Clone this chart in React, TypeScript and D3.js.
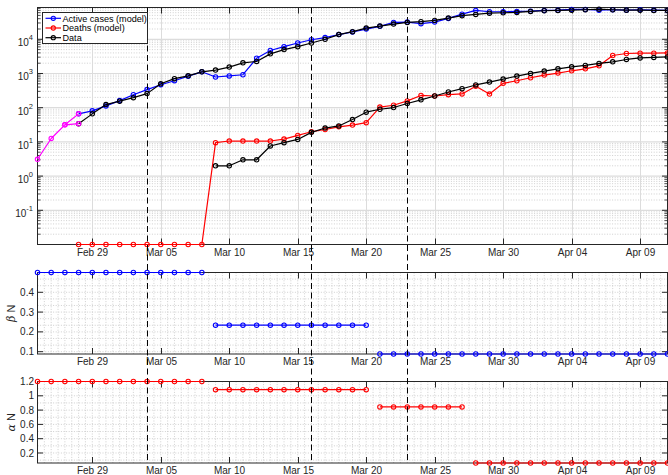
import React from "react";
import * as d3 from "d3";

const W = 668;
const H = 475;
const FONT = "'Liberation Sans', Arial, Helvetica, sans-serif";
const INK = "#262626";

// Daily time axis: Feb 25 2020 → Apr 11 2020
const START = new Date(2020, 1, 25);
const END = new Date(2020, 3, 11);
const dayAt = (i: number) => d3.timeDay.offset(START, i);

// Day offsets (from Feb 25) where each series begins
const MODEL_START = 3; // Feb 28
const DEATH_DATA_START = 13; // Mar 09

// Initial growth phase, Feb 25–27
const earlyGrowth = [3.1, 12.6, 31.6];

// Active cases (model), from Feb 28
const activeModel = [
  66, 81, 113, 161, 240, 338, 470, 615, 835, 1120, 790, 850, 920, 2800, 4700,
  6100, 7800, 9700, 11200, 13700, 16300, 19900, 23900, 31200, 31800, 28600,
  31800, 40800, 54300, 69700, 63800, 63800, 65200, 66500, 69700, 71100, 74500,
  74500, 71100, 73000, 71100, 73000, 71100, 69700,
];

// Reported active cases, from Feb 28
const casesData = [
  34, 66, 123, 155, 196, 258, 500, 705, 855, 1120, 1260, 1540, 2050, 2250, 3750,
  5000, 6100, 7800, 10000, 13700, 16700, 21300, 24400, 27900, 31200, 32700,
  35700, 41600, 48900, 53300, 58200, 59700, 61000, 65200, 68200, 69700, 71100,
  73000, 76000, 73000, 71100, 71100, 69700, 69700,
];

// Deaths (model), from Feb 28
const deathsModel = [
  0.01, 0.01, 0.01, 0.01, 0.01, 0.01, 0.01, 0.01, 0.01, 0.01, 9.5, 10.6, 10.6,
  10.6, 10.6, 12.1, 15.5, 19.8, 23, 27.5, 31, 36.5, 104, 118, 158, 228, 220,
  240, 252, 425, 250, 515, 614, 750, 898, 1028, 1200, 1370, 1675, 3360, 3840,
  3920, 3920, 4000,
];

// Reported deaths, from Mar 09
const deathsData = [
  2, 2, 3, 3, 7.6, 9.5, 11.8, 19, 25.4, 29.3, 45, 74, 90, 101, 133, 170, 220,
  288, 359, 462, 562, 687, 840, 1007, 1175, 1370, 1566, 1720, 1966, 2190, 2570,
  2860, 2940, 3055,
];

// Transmission rate per day, piecewise constant
const betaN = [
  0.5, 0.5, 0.5, 0.5, 0.5, 0.5, 0.5, 0.5, 0.5, 0.5, 0.5, 0.5, 0.5,
  0.234, 0.234, 0.234, 0.234, 0.234, 0.234, 0.234, 0.234, 0.234, 0.234, 0.234, 0.234,
  0.0883, 0.0883, 0.0883, 0.0883, 0.0883, 0.0883, 0.0883, 0.0883, 0.0883, 0.0883, 0.0883,
  0.0883, 0.0883, 0.0883, 0.0883, 0.0883, 0.0883, 0.0883, 0.0883, 0.0883, 0.0883, 0.0883,
];
const betaSegments: [number, number][] = [[0, 12], [13, 24], [25, 46]];

const alphaN = [
  1.2, 1.2, 1.2, 1.2, 1.2, 1.2, 1.2, 1.2, 1.2, 1.2, 1.2, 1.2, 1.2,
  1.085, 1.085, 1.085, 1.085, 1.085, 1.085, 1.085, 1.085, 1.085, 1.085, 1.085, 1.085,
  0.845, 0.845, 0.845, 0.845, 0.845, 0.845, 0.845,
  0.06, 0.06, 0.06, 0.06, 0.06, 0.06, 0.06, 0.06, 0.06, 0.06, 0.06, 0.06, 0.06, 0.06, 0.06,
];
const alphaSegments: [number, number][] = [[0, 12], [13, 24], [25, 31], [32, 46]];

// Intervention dates
const interventions = [new Date(2020, 2, 4), new Date(2020, 2, 16), new Date(2020, 2, 23)];

const logTicks = [0.1, 1, 10, 100, 1000, 10000];
const betaTicks = [0.1, 0.2, 0.3, 0.4];
const alphaTicks = [0.2, 0.4, 0.6, 0.8, 1, 1.2];

const legendItems = [
  { label: "Active cases (model)", color: "#0000ff" },
  { label: "Deaths (model)", color: "#ff0000" },
  { label: "Data", color: "#000000" },
];

const x = d3.scaleTime().domain([START, END]).range([37.5, 667.5]);
const xTicks = d3.timeDay.range(new Date(2020, 1, 29), d3.timeDay.offset(END, 1), 5);
const fmt = d3.timeFormat("%b %d");

const TOP = { y0: 7.5, y1: 244.5 };
const MID = { y0: 272.5, y1: 354 };
const BOT = { y0: 381.5, y1: 463 };

const yTop = d3.scaleLog().domain([0.01, 85000]).range([TOP.y1, TOP.y0]);
const yBeta = d3.scaleLinear().domain(d3.extent(betaN) as [number, number]).range([MID.y1, MID.y0]);
const yAlpha = d3.scaleLinear().domain(d3.extent(alphaN) as [number, number]).range([BOT.y1, BOT.y0]);

type Pt = [Date, number];
const series = (vals: number[], offset: number): Pt[] => vals.map((v, i) => [dayAt(offset + i), v]);

function Series({ pts, y, color, width = 1.2 }: { pts: Pt[]; y: (v: number) => number; color: string; width?: number }) {
  const line = d3.line<Pt>().x((d) => x(d[0])).y((d) => y(d[1]));
  return (
    <g>
      <path d={line(pts) || ""} fill="none" stroke={color} strokeWidth={width} strokeLinejoin="round" />
      {pts.map((d, i) => (
        <circle key={i} cx={x(d[0])} cy={y(d[1])} r={2.2} fill="none" stroke={color} strokeWidth={1.1} />
      ))}
    </g>
  );
}

function XAxis({ y0, y1 }: { y0: number; y1: number }) {
  return (
    <g>
      {xTicks.map((t, i) => {
        const px = Math.round(x(t)) + 0.5;
        return (
          <g key={i}>
            <line x1={px} x2={px} y1={y1} y2={y1 - 6} stroke={INK} />
            <line x1={px} x2={px} y1={y0} y2={y0 + 6} stroke={INK} />
            <text x={px} y={y1 + 11} textAnchor="middle" fontSize={10} fill={INK} fontFamily={FONT}>
              {fmt(t)}
            </text>
          </g>
        );
      })}
    </g>
  );
}

function Frame({ y0, y1 }: { y0: number; y1: number }) {
  return <rect x={37.5} y={y0} width={630} height={y1 - y0} fill="none" stroke={INK} strokeWidth={1} />;
}

function TopPanel() {
  const minor: number[] = [];
  for (let k = -2; k <= 4; k++) for (let m = 2; m <= 9; m++) {
    const v = m * Math.pow(10, k);
    if (v < 85000) minor.push(v);
  }
  const early: Pt[] = series(earlyGrowth, 0);
  const activePts = series(activeModel, MODEL_START);
  const casesPts = series(casesData, MODEL_START);
  return (
    <g>
      {minor.map((v, i) => (
        <line key={"m" + i} x1={37.5} x2={667.5} y1={yTop(v)} y2={yTop(v)} stroke="#c4c4c4" strokeWidth={0.8} strokeDasharray="1,1.6" />
      ))}
      {logTicks.map((v, i) => (
        <line key={"g" + i} x1={37.5} x2={667.5} y1={yTop(v)} y2={yTop(v)} stroke="#dcdcdc" strokeWidth={1.2} />
      ))}
      {xTicks.map((t, i) => (
        <line key={"v" + i} x1={Math.round(x(t)) + 0.5} x2={Math.round(x(t)) + 0.5} y1={TOP.y0} y2={TOP.y1} stroke="#dcdcdc" strokeWidth={1} />
      ))}
      <Frame y0={TOP.y0} y1={TOP.y1} />
      <XAxis y0={TOP.y0} y1={TOP.y1} />
      {minor.map((v, i) => (
        <g key={"mt" + i}>
          <line x1={37.5} x2={40.5} y1={yTop(v)} y2={yTop(v)} stroke={INK} strokeWidth={0.8} />
          <line x1={667.5} x2={664.5} y1={yTop(v)} y2={yTop(v)} stroke={INK} strokeWidth={0.8} />
        </g>
      ))}
      {logTicks.map((v, i) => {
        const exp = Math.round(Math.log10(v));
        return (
          <g key={"t" + i}>
            <line x1={37.5} x2={43} y1={yTop(v)} y2={yTop(v)} stroke={INK} />
            <line x1={667.5} x2={662} y1={yTop(v)} y2={yTop(v)} stroke={INK} />
            <text x={33} y={yTop(v) + 7} textAnchor="end" fontSize={10} fill={INK} fontFamily={FONT}>
              10
              <tspan fontSize={7.5} dy={-6}>{exp}</tspan>
            </text>
          </g>
        );
      })}
      <Series pts={activePts} y={yTop} color="#0000ff" />
      <Series pts={series(deathsModel, MODEL_START)} y={yTop} color="#ff0000" />
      <Series pts={casesPts} y={yTop} color="#000000" />
      <Series pts={series(deathsData, DEATH_DATA_START)} y={yTop} color="#000000" />
      <Series pts={[...early, activePts[0]]} y={yTop} color="#ff00ff" />
      <Series pts={[early[early.length - 1], casesPts[0]]} y={yTop} color="#ff00ff" />
    </g>
  );
}

function ParamPanel({
  vals, segs, y, ticks, minorStep, color, y0, y1, symbol,
}: {
  vals: number[]; segs: [number, number][]; y: d3.ScaleLinear<number, number>; ticks: number[];
  minorStep: number; color: string; y0: number; y1: number; symbol: string;
}) {
  const [lo, hi] = y.domain();
  const hMinor: number[] = [];
  for (let v = Math.ceil(lo / minorStep) * minorStep; v <= hi + 1e-9; v += minorStep) hMinor.push(v);
  const vMinor = d3.timeHour.every(12)!.range(START, END);
  return (
    <g>
      {vMinor.map((t, i) => (
        <line key={"vm" + i} x1={x(t)} x2={x(t)} y1={y0} y2={y1} stroke="#c4c4c4" strokeWidth={0.8} strokeDasharray="1,1.6" />
      ))}
      {hMinor.map((v, i) => (
        <line key={"hm" + i} x1={37.5} x2={667.5} y1={y(v)} y2={y(v)} stroke="#c4c4c4" strokeWidth={0.8} strokeDasharray="1,1.6" />
      ))}
      <Frame y0={y0} y1={y1} />
      <XAxis y0={y0} y1={y1} />
      {ticks.map((v, i) => (
        <g key={"t" + i}>
          <line x1={37.5} x2={43} y1={y(v)} y2={y(v)} stroke={INK} />
          <line x1={667.5} x2={662} y1={y(v)} y2={y(v)} stroke={INK} />
          <text x={34} y={y(v) + 3.6} textAnchor="end" fontSize={10} fill={INK} fontFamily={FONT}>
            {String(v)}
          </text>
        </g>
      ))}
      {segs.map(([a, b], i) => (
        <Series key={i} pts={vals.slice(a, b + 1).map((v, j) => [dayAt(a + j), v] as Pt)} y={y} color={color} />
      ))}
      <text
        transform={`translate(15,${(y0 + y1) / 2}) rotate(-90)`}
        textAnchor="middle" fontSize={11} fill={INK} fontFamily={FONT}
      >
        <tspan fontStyle="italic" fontFamily="'DejaVu Serif', serif">{symbol}</tspan> N
      </text>
    </g>
  );
}

function Legend() {
  const rows = [18.3, 28, 37.7];
  return (
    <g>
      <rect x={42.5} y={12.5} width={105} height={31} fill="#ffffff" stroke={INK} strokeWidth={1} />
      {legendItems.map((it, i) => (
        <g key={i}>
          <line x1={45.5} x2={61} y1={rows[i]} y2={rows[i]} stroke={it.color} strokeWidth={1.2} />
          <circle cx={53.3} cy={rows[i]} r={2.1} fill="none" stroke={it.color} strokeWidth={1.1} />
          <text x={62.5} y={rows[i] + 3.2} fontSize={9.1} fill="#000" fontFamily={FONT}>{it.label}</text>
        </g>
      ))}
    </g>
  );
}

export default function App() {
  return (
    <svg width={W} height={H} style={{ position: "absolute", left: 0, top: 0, background: "#fff" }}>
      <rect width={W} height={H} fill="#fff" />
      <TopPanel />
      <ParamPanel vals={betaN} segs={betaSegments} y={yBeta} ticks={betaTicks} minorStep={0.1 / 3}
        color="#0000ff" y0={MID.y0} y1={MID.y1} symbol="β" />
      <ParamPanel vals={alphaN} segs={alphaSegments} y={yAlpha} ticks={alphaTicks} minorStep={0.1}
        color="#ff0000" y0={BOT.y0} y1={BOT.y1} symbol="α" />
      {interventions.map((d, i) => (
        <line key={i} x1={Math.round(x(d)) + 0.5} x2={Math.round(x(d)) + 0.5} y1={TOP.y0} y2={BOT.y1}
          stroke="#000" strokeWidth={1} strokeDasharray="6,3.5" />
      ))}
      <Legend />
    </svg>
  );
}
